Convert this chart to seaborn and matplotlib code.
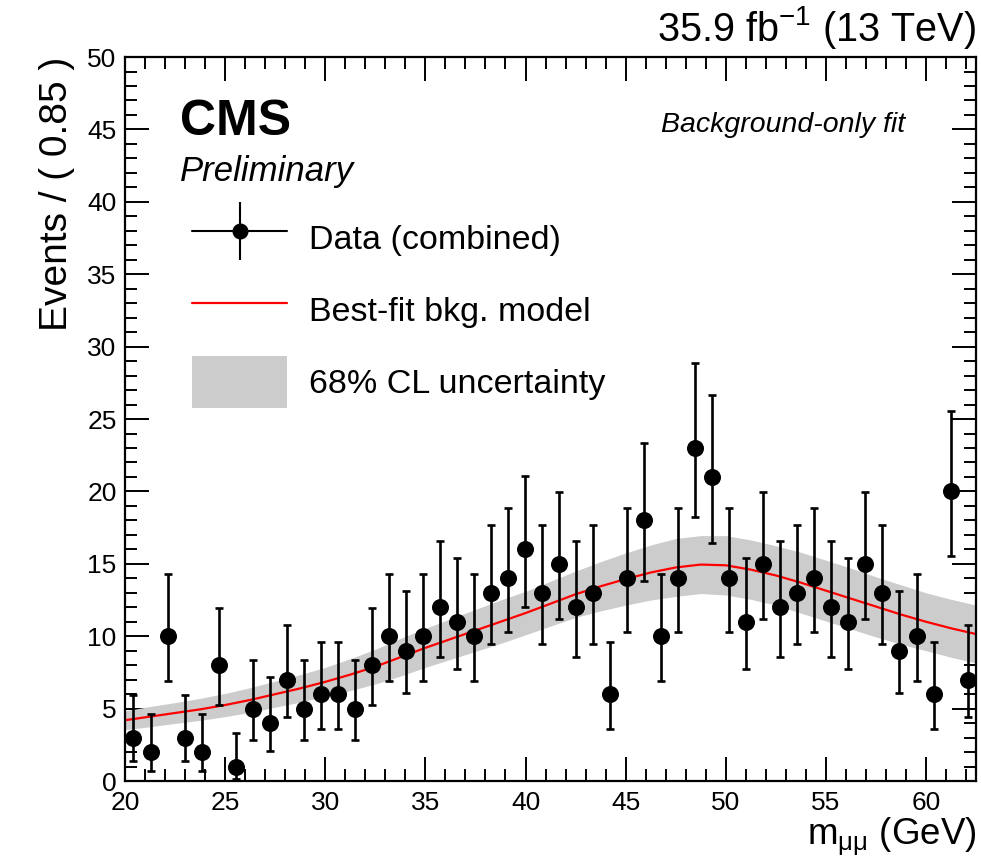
import math
import numpy as np
import pandas as pd
import matplotlib
matplotlib.use("Agg")
import matplotlib.pyplot as plt
from matplotlib.lines import Line2D
from matplotlib.patches import Patch
from matplotlib.legend_handler import HandlerTuple
from matplotlib.ticker import MultipleLocator
import seaborn as sns

# ---- data -----------------------------------------------------------------
bin_start = 20.0
bin_width = 0.85
counts = [3, 2, 10, 3, 2, 8, 1, 5, 4, 7,
          5, 6, 6, 5, 8, 10, 9, 10, 12, 11,
          10, 13, 14, 16, 13, 15, 12, 13, 6, 14,
          18, 10, 14, 23, 21, 14, 11, 15, 12, 13,
          14, 12, 11, 15, 13, 9, 10, 6, 20, 7]

# best-fit background model and its 68% CL band
model_x = [20.0, 21.25, 22.5, 23.75, 25.0, 26.25, 27.5, 28.75, 30.0, 31.25,
           32.5, 33.75, 35.0, 36.25, 37.5, 38.75, 40.0, 41.25, 42.5, 43.75,
           45.0, 46.25, 47.5, 48.75, 50.0, 51.25, 52.5, 53.75, 55.0, 56.25,
           57.5, 58.75, 60.0, 61.25, 62.5]
model_y = [4.2, 4.45, 4.7, 4.95, 5.25, 5.6, 6.0, 6.4, 6.85, 7.35,
           7.9, 8.55, 9.2, 9.8, 10.4, 11.0, 11.6, 12.25, 12.9, 13.45,
           13.95, 14.4, 14.75, 14.95, 14.9, 14.6, 14.2, 13.7, 13.15, 12.6,
           12.05, 11.5, 11.0, 10.55, 10.15]
band_lo = [3.55, 3.75, 3.98, 4.19, 4.45, 4.75, 5.1, 5.45, 5.85, 6.25,
           6.7, 7.25, 7.85, 8.4, 8.95, 9.5, 10.1, 10.7, 11.3, 11.75,
           12.15, 12.5, 12.75, 12.95, 12.85, 12.55, 12.15, 11.6, 11.05, 10.5,
           9.95, 9.45, 9.0, 8.55, 8.15]
band_hi = [4.85, 5.15, 5.42, 5.71, 6.05, 6.45, 6.9, 7.35, 7.85, 8.45,
           9.1, 9.85, 10.55, 11.2, 11.85, 12.5, 13.1, 13.8, 14.5, 15.15,
           15.75, 16.3, 16.75, 16.95, 16.95, 16.65, 16.25, 15.8, 15.25, 14.7,
           14.1, 13.55, 13.0, 12.55, 12.15]

lumi_text = "35.9 fb$^{\\mathregular{-1}}$ (13 TeV)"


# ---- Garwood (Poisson 68.27%) intervals for the counts ---------------------
def poisson_cdf(k, mu):
    term = math.exp(-mu)
    total = term
    for i in range(1, k + 1):
        term *= mu / i
        total += term
    return total


def solve(f, lo, hi):
    for _ in range(80):
        mid = 0.5 * (lo + hi)
        if f(mid) > 0:
            lo = mid
        else:
            hi = mid
    return 0.5 * (lo + hi)


half_alpha = (1.0 - 0.682689) / 2.0


def garwood(n):
    lower = 0.0 if n == 0 else solve(lambda m: half_alpha - (1 - poisson_cdf(n - 1, m)), 0.0, n)
    upper = solve(lambda m: poisson_cdf(n, m) - half_alpha, n, n + 10 * math.sqrt(n + 1) + 10)
    return lower, upper


centers = bin_start + bin_width * (np.arange(len(counts)) + 0.5)
intervals = np.array([garwood(n) for n in counts])
df = pd.DataFrame({"mass": centers, "events": counts,
                   "err_lo": np.array(counts) - intervals[:, 0],
                   "err_hi": intervals[:, 1] - np.array(counts)})
model = pd.DataFrame({"mass": model_x, "fit": model_y, "lo": band_lo, "hi": band_hi})

# ---- style ----------------------------------------------------------------
sns.set_style("ticks")
plt.rcParams["font.family"] = ["Liberation Sans", "DejaVu Sans"]
plt.rcParams["mathtext.fontset"] = "custom"
plt.rcParams["mathtext.rm"] = "Liberation Sans"
plt.rcParams["mathtext.it"] = "Liberation Sans:italic"
plt.rcParams["mathtext.bf"] = "Liberation Sans:bold"
plt.rcParams["text.color"] = "black"
plt.rcParams["axes.labelcolor"] = "black"

fig = plt.figure(figsize=(9.81, 8.64), dpi=100)
ax = fig.add_axes([0.1274, 0.096, 0.8676, 0.838])

band_color = "#cccccc"
ax.fill_between(model["mass"], model["lo"], model["hi"], color=band_color, lw=0, zorder=1)
sns.lineplot(data=model, x="mass", y="fit", color="#ff0000", lw=1.6, ax=ax, zorder=2)
ax.errorbar(df["mass"], df["events"], yerr=[df["err_lo"], df["err_hi"]],
            fmt="none", ecolor="black", elinewidth=1.9, capsize=2.8, capthick=1.9, zorder=3)
sns.scatterplot(data=df, x="mass", y="events", color="black", s=150, marker="o",
                edgecolor="black", linewidth=0, ax=ax, zorder=4)

ax.set_xlim(bin_start, bin_start + bin_width * len(counts))
ax.set_ylim(0, 50)
ax.xaxis.set_major_locator(MultipleLocator(5))
ax.xaxis.set_minor_locator(MultipleLocator(1))
ax.yaxis.set_major_locator(MultipleLocator(5))
ax.yaxis.set_minor_locator(MultipleLocator(1))
ax.tick_params(which="both", direction="in", top=True, right=True, width=1.4,
               labelsize=19, colors="black")
ax.tick_params(which="major", length=17)
ax.tick_params(which="minor", length=8.5)
ax.tick_params(axis="x", which="major", pad=7)
ax.tick_params(axis="y", which="major", pad=6)
for sp in ax.spines.values():
    sp.set_linewidth(1.6)
    sp.set_color("black")

ax.set_xlabel("m$_{\\mathregular{μμ}}$ (GeV)", fontsize=26.5, loc="right", labelpad=1)
ax.set_ylabel("Events / ( 0.85 )", fontsize=28, loc="top", labelpad=9)

ax.text(1.0, 1.008, lumi_text, transform=ax.transAxes, ha="right", va="bottom", fontsize=28.5)
ax.text(0.0646, 0.91, "CMS", transform=ax.transAxes, ha="left", va="center",
        fontsize=36, fontweight="bold")
ax.text(0.0646, 0.842, "Preliminary", transform=ax.transAxes, ha="left", va="center",
        fontsize=25, fontstyle="italic")
ax.text(0.9166, 0.906, "Background-only fit", transform=ax.transAxes, ha="right",
        va="center", fontsize=20.5, fontstyle="italic")

data_handle = (Line2D([], [], color="black", lw=1.5, marker="o", markersize=10.5),
               Line2D([], [], color="black", lw=0, marker="|", markersize=42,
                      markeredgewidth=1.5))
fit_handle = Line2D([], [], color="#ff0000", lw=1.6)
band_handle = Patch(facecolor=band_color, edgecolor="none")
ax.legend([data_handle, fit_handle, band_handle],
          ["Data (combined)", "Best-fit bkg. model", "68% CL uncertainty"],
          handler_map={tuple: HandlerTuple(ndivide=1)},
          loc="upper left", bbox_to_anchor=(0.079, 0.785), frameon=False,
          fontsize=24.5, handlelength=2.8, handleheight=1.95, handletextpad=0.62,
          labelspacing=0.6, borderpad=0, borderaxespad=0)

fig.savefig("out.png", dpi=100)
